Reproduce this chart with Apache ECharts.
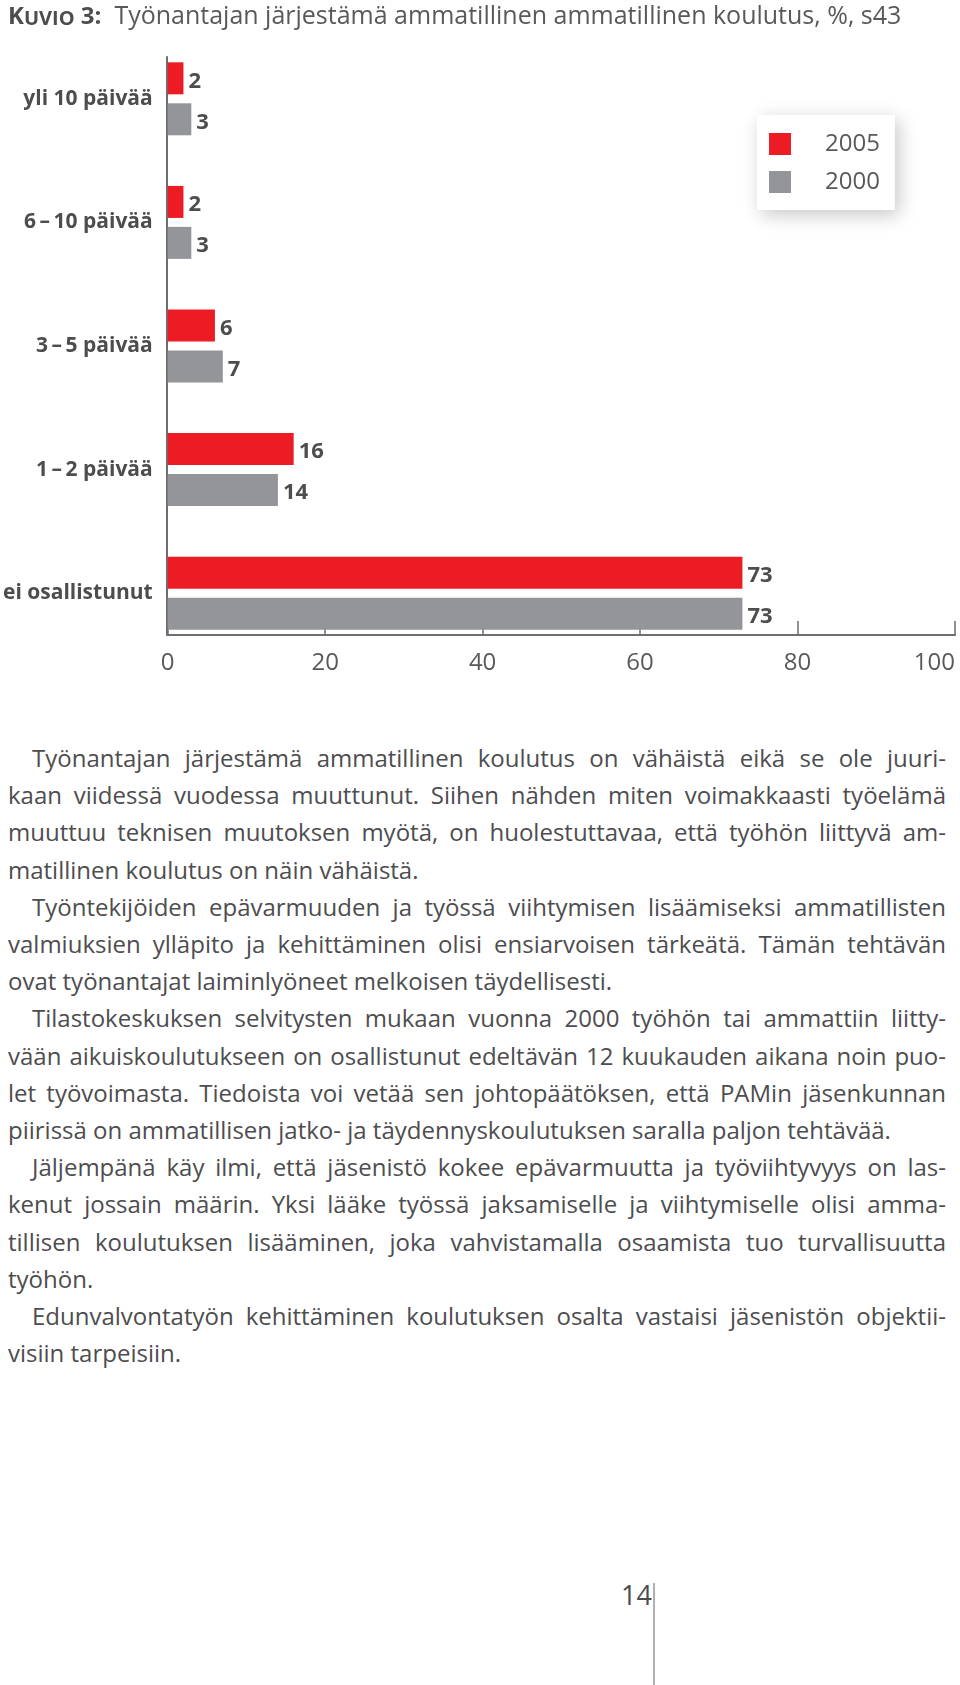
<!DOCTYPE html>
<html><head><meta charset="utf-8">
<script src="https://cdn.jsdelivr.net/npm/echarts@6/dist/echarts.min.js"></script>
<style>
html,body{margin:0;padding:0;background:#fff;}
body{width:960px;height:1685px;position:relative;overflow:hidden;}
#chart{position:absolute;left:0;top:0;width:960px;height:700px;}
#text{position:absolute;left:8px;top:739px;width:938px;font-family:'Open Sans',sans-serif;font-size:24px;line-height:37.2px;color:#4d4d4f;}
#text div{white-space:nowrap;text-align:justify;text-align-last:justify;}
#text div.last{text-align-last:left;}
#text div.ind{padding-left:24px;}
#page{position:absolute;left:621px;top:1580px;font-family:'Open Sans',sans-serif;font-size:27px;line-height:30px;color:#4d4d4f;}
#rule{position:absolute;left:653px;top:1583px;width:2px;height:102px;background:#b0b0b0;}
</style>
</head><body>
<div id="chart"></div>
<div id="text"></div>
<div id="page">14</div>
<div id="rule"></div>
<script>
// ---- data ----
const categories = ['yli 10 päivää', '6\u2009–\u200910 päivää', '3\u2009–\u20095 päivää', '1\u2009–\u20092 päivää', 'ei osallistunut'];
const seriesNames = ['2005', '2000'];
const values2005 = [2, 2, 6, 16, 73];
const values2000 = [3, 3, 7, 14, 73];
const xMin = 0, xMax = 100, xInterval = 20;
const titleLabel = 'UVIO';
const titleText = 'Työnantajan järjestämä ammatillinen ammatillinen koulutus, %, s43';
// paragraph lines: [text, indent, lastLineOfParagraph]
const paragraphLines = [
  ['Työnantajan järjestämä ammatillinen koulutus on vähäistä eikä se ole juuri-', 1, 0],
  ['kaan viidessä vuodessa muuttunut. Siihen nähden miten voimakkaasti työelämä', 0, 0],
  ['muuttuu teknisen muutoksen myötä, on huolestuttavaa, että työhön liittyvä am-', 0, 0],
  ['matillinen koulutus on näin vähäistä.', 0, 1],
  ['Työntekijöiden epävarmuuden ja työssä viihtymisen lisäämiseksi ammatillisten', 1, 0],
  ['valmiuksien ylläpito ja kehittäminen olisi ensiarvoisen tärkeätä. Tämän tehtävän', 0, 0],
  ['ovat työnantajat laiminlyöneet melkoisen täydellisesti.', 0, 1],
  ['Tilastokeskuksen selvitysten mukaan vuonna 2000 työhön tai ammattiin liitty-', 1, 0],
  ['vään aikuiskoulutukseen on osallistunut edeltävän 12 kuukauden aikana noin puo-', 0, 0],
  ['let työvoimasta. Tiedoista voi vetää sen johtopäätöksen, että PAMin jäsenkunnan', 0, 0],
  ['piirissä on ammatillisen jatko- ja täydennyskoulutuksen saralla paljon tehtävää.', 0, 1],
  ['Jäljempänä käy ilmi, että jäsenistö kokee epävarmuutta ja työviihtyvyys on las-', 1, 0],
  ['kenut jossain määrin. Yksi lääke työssä jaksamiselle ja viihtymiselle olisi amma-', 0, 0],
  ['tillisen koulutuksen lisääminen, joka vahvistamalla osaamista tuo turvallisuutta', 0, 0],
  ['työhön.', 0, 1],
  ['Edunvalvontatyön kehittäminen koulutuksen osalta vastaisi jäsenistön objektii-', 1, 0],
  ['visiin tarpeisiin.', 0, 1]
];

const textBox = document.getElementById('text');
paragraphLines.forEach(function (l) {
  const d = document.createElement('div');
  d.textContent = l[0];
  if (l[1]) d.className += ' ind';
  if (l[2]) d.className += ' last';
  textBox.appendChild(d);
});

const FONT = "'Open Sans', sans-serif";
const RED = '#ed1c24', GRAY = '#939598', DARK = '#4d4d4f', MID = '#58595b', AXIS = '#6d6e71';

const chart = echarts.init(document.getElementById('chart'), null, {renderer: 'canvas'});
const valueLabel = {
  show: true, position: 'right', distance: 5, offset: [0, 3],
  fontFamily: FONT, fontSize: 22, fontWeight: 'bold', color: DARK
};
chart.setOption({
  animation: false,
  title: {
    left: 8, top: -1, padding: 0,
    text: '{b|K}{c|' + titleLabel + '}{b| 3:}{n|  ' + titleText + '}',
    textStyle: {
      fontWeight: 'normal',
      rich: {
        b: {fontFamily: FONT, fontSize: 24, fontWeight: 'bold', color: DARK, lineHeight: 30, verticalAlign: 'bottom'},
        c: {fontFamily: FONT, fontSize: 20, fontWeight: 'bold', color: DARK, lineHeight: 30, verticalAlign: 'bottom'},
        n: {fontFamily: FONT, fontSize: 25, fontWeight: 'normal', color: MID, lineHeight: 30, verticalAlign: 'bottom'}
      }
    }
  },
  legend: {
    orient: 'vertical', left: 757, top: 115,
    padding: [17, 15, 16, 12],
    itemWidth: 22, itemHeight: 22, itemGap: 14,
    icon: 'rect',
    backgroundColor: '#fff',
    shadowBlur: 18, shadowColor: 'rgba(0,0,0,0.22)', shadowOffsetX: 4, shadowOffsetY: 5,
    textStyle: {fontFamily: FONT, fontSize: 24, color: MID, padding: [0, 0, 0, 29]},
    data: seriesNames
  },
  grid: [
    {left: 167, top: 37, width: 788, height: 618},
    {left: 167, top: 57, width: 788, height: 578}
  ],
  xAxis: [
    {
      type: 'value', gridIndex: 0, min: xMin, max: xMax, interval: xInterval, offset: -20,
      axisLine: {show: true, lineStyle: {color: AXIS, width: 2}},
      axisTick: {show: true, inside: true, length: 14, lineStyle: {color: AXIS, width: 1.5}},
      axisLabel: {margin: 16, fontFamily: FONT, fontSize: 24, color: MID, alignMaxLabel: 'right'},
      splitLine: {show: false}
    },
    {type: 'value', gridIndex: 1, min: xMin, max: xMax, show: false}
  ],
  yAxis: [
    {
      type: 'category', gridIndex: 0, data: categories, inverse: true,
      axisLine: {show: false}, axisTick: {show: false},
      axisLabel: {margin: 15, fontFamily: FONT, fontSize: 21, fontWeight: 'bold', color: DARK}
    },
    {
      type: 'value', gridIndex: 1, min: 0, max: 1,
      axisLine: {show: true, lineStyle: {color: AXIS, width: 2}},
      axisTick: {show: false}, axisLabel: {show: false}, splitLine: {show: false}
    }
  ],
  series: [
    {name: seriesNames[0], type: 'bar', xAxisIndex: 0, yAxisIndex: 0, data: values2005,
     barWidth: 32, barGap: '28%', itemStyle: {color: RED}, label: valueLabel},
    {name: seriesNames[1], type: 'bar', xAxisIndex: 0, yAxisIndex: 0, data: values2000,
     barWidth: 32, barGap: '28%', itemStyle: {color: GRAY}, label: valueLabel}
  ]
});
</script>
</body></html>
